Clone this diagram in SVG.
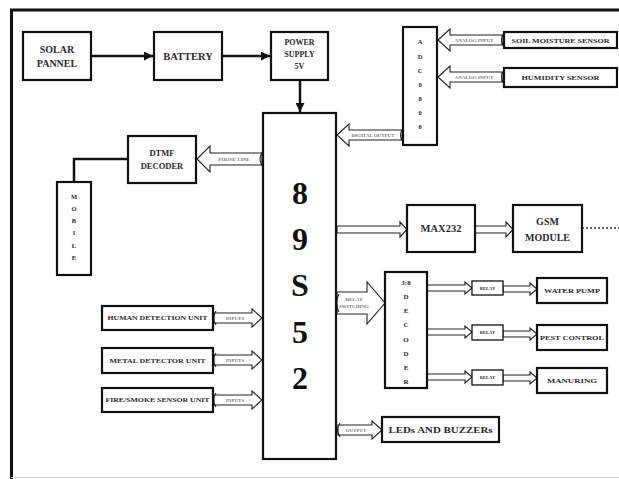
<svg xmlns="http://www.w3.org/2000/svg" width="619" height="479" viewBox="0 0 619 479">
<defs>
<style>
.box{fill:#fff;stroke:#111;stroke-width:2.2}
.tbox{fill:#fff;stroke:#111;stroke-width:1.3}
.t{font-family:"Liberation Serif",serif;font-weight:bold;fill:#2a2a2a;text-anchor:middle}
.big{font-family:"Liberation Serif",serif;font-weight:bold;fill:#111;text-anchor:middle;font-size:32px}
.ln{stroke:#111;stroke-width:2.5;fill:none}
.ba{fill:#fff;stroke:#222;stroke-width:1.1}
.curl{fill:none;stroke:#222;stroke-width:1.1}
.at{font-family:"Liberation Serif",serif;font-weight:bold;fill:#777;text-anchor:middle;font-size:5px}
</style>
<marker id="ah" viewBox="0 0 10 10" refX="10" refY="5" markerUnits="userSpaceOnUse" markerWidth="9" markerHeight="9" orient="auto">
<path d="M0,0 L10,5 L0,10 z" fill="#111"/>
</marker>
</defs>
<rect x="0" y="0" width="619" height="479" fill="#fff"/>
<g id="frame">
<line x1="10" y1="10" x2="619" y2="10" stroke="#111" stroke-width="3"/>
<line x1="11.5" y1="9" x2="11.5" y2="479" stroke="#111" stroke-width="3"/>
<line x1="11" y1="477.5" x2="619" y2="477.5" stroke="#ccc" stroke-width="1"/>
</g>

<g id="connectors">
<line class="ln" x1="91" y1="56" x2="153" y2="56" marker-end="url(#ah)"/>
<line class="ln" x1="222" y1="56" x2="270" y2="56" marker-end="url(#ah)"/>
<line class="ln" x1="300" y1="80" x2="300" y2="112" stroke-width="2" marker-end="url(#ah)"/>
<polyline class="ln" stroke-width="2" points="74,182 74,159 128,159"/>
<line x1="582" y1="228" x2="619" y2="228" stroke="#333" stroke-width="1.5" stroke-dasharray="2 2"/>

<path class="ba" d="M438,40 L450,29 L450,35 L502,35 L502,45 L450,45 L450,51 Z"/>
<path class="curl" d="M504,33 q-5,7 0,14"/>
<text class="at" x="474" y="42">ANALOG INPUT</text>
<path class="ba" d="M438,77 L450,66 L450,72 L502,72 L502,82 L450,82 L450,88 Z"/>
<path class="curl" d="M504,70 q-5,7 0,14"/>
<text class="at" x="474" y="79">ANALOG INPUT</text>

<path class="ba" d="M337,135 L349,124 L349,130 L402,130 L402,140 L349,140 L349,146 Z"/>
<path class="curl" d="M403,128 q-5,7 0,14"/>
<text class="at" x="373" y="137">DIGITAL OUTPUT</text>

<path class="ba" d="M197,159 L210,146 L210,153 L262,153 L262,165 L210,165 L210,172 Z"/>
<path class="curl" d="M263,151 q-6,8 0,16"/>
<text class="at" x="234" y="161">PHONE LINE</text>

<path class="ba" d="M214,313 L252,313 L252,309 L262,318 L252,327 L252,323 L214,323 Z"/>
<path class="curl" d="M216,311 q-5,7 0,14"/>
<text class="at" x="235" y="320">INPUTS</text>
<path class="ba" d="M214,355 L252,355 L252,351 L262,360 L252,369 L252,365 L214,365 Z"/>
<path class="curl" d="M216,353 q-5,7 0,14"/>
<text class="at" x="235" y="362">INPUTS</text>
<path class="ba" d="M214,395 L252,395 L252,391 L262,400 L252,409 L252,405 L214,405 Z"/>
<path class="curl" d="M216,393 q-5,7 0,14"/>
<text class="at" x="235" y="402">INPUTS</text>

<path class="ba" d="M338,425 L372,425 L372,421 L382,430 L372,439 L372,435 L338,435 Z"/>
<path class="curl" d="M340,423 q-5,7 0,14"/>
<text class="at" x="356" y="432">OUTPUT</text>

<path class="ba" d="M337,292 L367,292 L367,282 L385,303 L367,324 L367,314 L337,314 Z"/>
<path class="curl" d="M339,294 q-5,9 0,18"/>
<text class="at" x="354" y="301">RELAY</text>
<text class="at" x="354" y="308">SWITCHING</text>

<path class="ba" d="M337,226 L400,226 L400,222 L407,229.5 L400,237 L400,233 L337,233 Z"/>
<path class="ba" d="M475,226 L506,226 L506,222 L513,229.5 L506,237 L506,233 L475,233 Z"/>

<path class="ba" d="M427,285 L465,285 L465,282 L472,288 L465,294 L465,291 L427,291 Z"/>
<path class="ba" d="M427,329 L465,329 L465,326 L472,332 L465,338 L465,335 L427,335 Z"/>
<path class="ba" d="M427,374 L465,374 L465,371 L472,377 L465,383 L465,380 L427,380 Z"/>
<path class="ba" d="M503,286 L530,286 L530,283 L537,289 L530,295 L530,292 L503,292 Z"/>
<path class="ba" d="M503,331 L530,331 L530,328 L537,334 L530,340 L530,337 L503,337 Z"/>
<path class="ba" d="M503,375 L530,375 L530,372 L537,378 L530,384 L530,381 L503,381 Z"/>
</g>

<g id="solar">
<rect class="box" x="23" y="32" width="68" height="48"/>
<text class="t" font-size="10" x="57" y="53">SOLAR</text>
<text class="t" font-size="10" x="57" y="67">PANNEL</text>
</g>
<g id="battery">
<rect class="box" x="154" y="32" width="68" height="48"/>
<text class="t" font-size="10.5" x="188" y="60">BATTERY</text>
</g>
<g id="power">
<rect class="box" x="271" y="32" width="57" height="48"/>
<text class="t" font-size="8" x="299.5" y="45">POWER</text>
<text class="t" font-size="8" x="299.5" y="57">SUPPLY</text>
<text class="t" font-size="8" x="299.5" y="69">5V</text>
</g>
<g id="mcu">
<rect class="box" x="263" y="113" width="73" height="346" stroke-width="2.5"/>
<text class="big" x="300" y="204">8</text>
<text class="big" x="300" y="250">9</text>
<text class="big" x="300" y="296">S</text>
<text class="big" x="300" y="343">5</text>
<text class="big" x="300" y="389">2</text>
</g>
<g id="adc">
<rect class="box" x="403" y="27" width="34" height="118"/>
<g class="t" font-size="6.5">
<text x="420" y="44">A</text>
<text x="420" y="59">D</text>
<text x="420" y="73">C</text>
<text x="420" y="87">0</text>
<text x="420" y="101">8</text>
<text x="420" y="115">0</text>
<text x="420" y="129">8</text>
</g>
</g>
<g id="soil">
<rect class="box" x="504" y="32" width="113" height="16"/>
<text class="t" font-size="7" x="560.5" y="43" textLength="98" lengthAdjust="spacingAndGlyphs">SOIL MOISTURE SENSOR</text>
</g>
<g id="humidity">
<rect class="box" x="504" y="68" width="113" height="19"/>
<text class="t" font-size="7" x="560.5" y="80" textLength="78" lengthAdjust="spacingAndGlyphs">HUMIDITY SENSOR</text>
</g>
<g id="dtmf">
<rect class="box" x="128" y="136" width="68" height="47"/>
<text class="t" font-size="8.5" x="162" y="156">DTMF</text>
<text class="t" font-size="8.5" x="162" y="169">DECODER</text>
</g>
<g id="mobile">
<rect class="box" x="57" y="182" width="34" height="93"/>
<g class="t" font-size="6.5">
<text x="74" y="199">M</text>
<text x="74" y="211">O</text>
<text x="74" y="223">B</text>
<text x="74" y="235">I</text>
<text x="74" y="248">L</text>
<text x="74" y="260">E</text>
</g>
</g>
<g id="max232">
<rect class="box" x="407" y="205" width="68" height="47"/>
<text class="t" font-size="10.5" x="441" y="232">MAX232</text>
</g>
<g id="gsm">
<rect class="box" x="513" y="205" width="69" height="47"/>
<text class="t" font-size="10" x="547.5" y="225">GSM</text>
<text class="t" font-size="10" x="547.5" y="241">MODULE</text>
</g>
<g id="decoder">
<rect class="box" x="385" y="272" width="42" height="116"/>
<g class="t" font-size="7">
<text x="406" y="285">3:8</text>
<text x="406" y="299">D</text>
<text x="406" y="313">E</text>
<text x="406" y="327">C</text>
<text x="406" y="342">O</text>
<text x="406" y="356">D</text>
<text x="406" y="370">E</text>
<text x="406" y="384">R</text>
</g>
</g>
<g id="relay1">
<rect class="tbox" x="472" y="281" width="31" height="14"/>
<text class="t" font-size="4.5" x="487.5" y="290">RELAY</text>
</g>
<g id="relay2">
<rect class="tbox" x="472" y="325" width="31" height="15"/>
<text class="t" font-size="4.5" x="487.5" y="334">RELAY</text>
</g>
<g id="relay3">
<rect class="tbox" x="472" y="370" width="31" height="15"/>
<text class="t" font-size="4.5" x="487.5" y="379">RELAY</text>
</g>
<g id="waterpump">
<rect class="box" x="537" y="278" width="70" height="25"/>
<text class="t" font-size="7" x="572" y="293" textLength="56" lengthAdjust="spacingAndGlyphs">WATER PUMP</text>
</g>
<g id="pest">
<rect class="box" x="537" y="325" width="70" height="25"/>
<text class="t" font-size="7" x="572" y="340" textLength="64" lengthAdjust="spacingAndGlyphs">PEST CONTROL</text>
</g>
<g id="manuring">
<rect class="box" x="537" y="368" width="70" height="25"/>
<text class="t" font-size="7" x="572" y="383" textLength="50" lengthAdjust="spacingAndGlyphs">MANURING</text>
</g>
<g id="human">
<rect class="box" x="102" y="306" width="111" height="24"/>
<text class="t" font-size="6.5" x="157.5" y="320" textLength="100" lengthAdjust="spacingAndGlyphs">HUMAN DETECTION UNIT</text>
</g>
<g id="metal">
<rect class="box" x="102" y="348" width="111" height="25"/>
<text class="t" font-size="6.5" x="157.5" y="363" textLength="96" lengthAdjust="spacingAndGlyphs">METAL DETECTOR UNIT</text>
</g>
<g id="fire">
<rect class="box" x="102" y="388" width="111" height="24"/>
<text class="t" font-size="6.5" x="157.5" y="402" textLength="104" lengthAdjust="spacingAndGlyphs">FIRE/SMOKE SENSOR UNIT</text>
</g>
<g id="leds">
<rect class="box" x="382" y="417" width="117" height="25"/>
<text class="t" font-size="8" x="440.5" y="433" textLength="104" lengthAdjust="spacingAndGlyphs">LEDs AND BUZZERs</text>
</g>
</svg>
